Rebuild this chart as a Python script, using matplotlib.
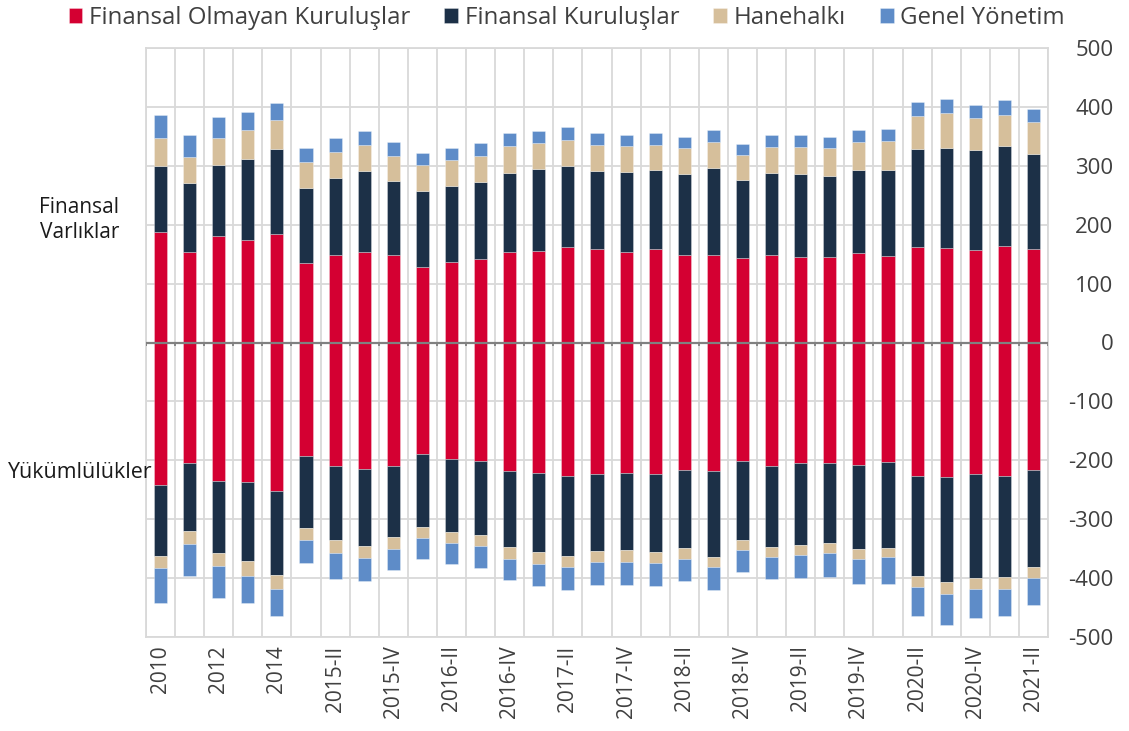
import matplotlib
matplotlib.use("Agg")
import matplotlib.pyplot as plt
import numpy as np

plt.rcParams['font.family'] = ['Open Sans', 'DejaVu Sans']

categories = ["2010", "2011", "2012", "2013", "2014",
              "2015-I", "2015-II", "2015-III", "2015-IV",
              "2016-I", "2016-II", "2016-III", "2016-IV",
              "2017-I", "2017-II", "2017-III", "2017-IV",
              "2018-I", "2018-II", "2018-III", "2018-IV",
              "2019-I", "2019-II", "2019-III", "2019-IV",
              "2020-I", "2020-II", "2020-III", "2020-IV",
              "2021-I", "2021-II"]

series_names = ["Finansal Olmayan Kuruluşlar", "Finansal Kuruluşlar", "Hanehalkı", "Genel Yönetim"]

# Finansal varlıklar (assets, positive)
assets_nfc = [187, 153, 181, 174, 185, 135, 148, 153, 148, 129, 137, 142, 153, 156, 162, 159,
              153, 158, 149, 149, 144, 149, 146, 146, 152, 147, 162, 160, 157, 163, 158]
assets_fc = [113, 117, 121, 138, 143, 128, 131, 138, 126, 128, 128, 130, 135, 138, 137, 133,
             136, 135, 137, 148, 132, 139, 140, 137, 141, 146, 166, 171, 169, 170, 162]
assets_hh = [47, 45, 46, 48, 50, 44, 45, 45, 43, 44, 44, 44, 45, 44, 45, 44,
             44, 43, 44, 44, 42, 44, 46, 47, 48, 49, 56, 58, 56, 54, 54]
assets_gov = [40, 37, 35, 31, 29, 23, 23, 23, 24, 21, 22, 22, 23, 21, 22, 20,
              20, 20, 19, 20, 19, 20, 20, 19, 20, 21, 24, 24, 22, 24, 23]

# Yükümlülükler (liabilities, negative)
liab_nfc = [-242, -205, -235, -236, -252, -192, -210, -214, -209, -190, -197, -202, -218, -221, -227, -224,
            -222, -224, -216, -218, -202, -209, -205, -204, -208, -203, -226, -229, -224, -227, -216]
liab_fc = [-121, -115, -122, -135, -142, -123, -126, -132, -122, -124, -124, -125, -130, -135, -136, -130,
           -131, -132, -133, -146, -134, -139, -139, -137, -143, -146, -170, -178, -175, -171, -165]
liab_hh = [-20, -22, -23, -26, -24, -20, -21, -20, -20, -18, -19, -19, -19, -20, -19, -19,
           -19, -19, -19, -17, -16, -16, -16, -16, -16, -16, -19, -20, -19, -20, -19]
liab_gov = [-59, -54, -53, -46, -46, -39, -45, -39, -36, -36, -36, -37, -36, -38, -38, -38,
            -39, -38, -37, -39, -38, -38, -40, -41, -43, -45, -49, -52, -50, -47, -45]

colors = ["#D40032", "#1C3047", "#D6BF9B", "#5E8CC8"]

fig = plt.figure(figsize=(11.29, 7.31), dpi=100)
ax = fig.add_axes([146/1129, 1 - 637/731, (1048 - 146)/1129, (637 - 48)/731])

x = np.arange(len(categories))
width = 0.45

pos_series = [assets_nfc, assets_fc, assets_hh, assets_gov]
neg_series = [liab_nfc, liab_fc, liab_hh, liab_gov]

bottom_p = np.zeros(len(categories))
bottom_n = np.zeros(len(categories))
handles = []
for vals_p, vals_n, col, name in zip(pos_series, neg_series, colors, series_names):
    vp = np.array(vals_p, dtype=float)
    vn = np.array(vals_n, dtype=float)
    h = ax.bar(x, vp, width, bottom=bottom_p, color=col, label=name, zorder=3,
               edgecolor=(1, 1, 1, 0.35), linewidth=0.6)
    ax.bar(x, vn, width, bottom=bottom_n, color=col, zorder=3,
           edgecolor=(1, 1, 1, 0.35), linewidth=0.6)
    bottom_p += vp
    bottom_n += vn
    handles.append(h)

ax.set_xlim(-0.5, len(categories) - 0.5)
ax.set_ylim(-500, 500)

ax.set_yticks(np.arange(-500, 501, 100))
ax.yaxis.tick_right()
ax.set_yticklabels([str(v) for v in range(-500, 501, 100)])
ax.tick_params(axis='y', length=0, pad=47, labelsize=16, labelcolor='#404040')
for lab in ax.get_yticklabels():
    lab.set_horizontalalignment('right')

ax.set_xticks(x[::2])
ax.set_xticklabels(categories[::2], rotation=90, fontsize=15, color='#404040')
ax.tick_params(axis='x', length=0, pad=6)

ax.set_xticks(np.arange(-0.5, len(categories), 1.0), minor=True)
ax.tick_params(axis='x', which='minor', length=0)
ax.grid(True, which='minor', axis='x', color='#D9D9D9', linewidth=1.3, zorder=0)
ax.grid(True, which='major', axis='y', color='#D9D9D9', linewidth=1.3, zorder=0)
ax.grid(False, which='major', axis='x')

for s in ax.spines.values():
    s.set_color('#D9D9D9')
    s.set_linewidth(1.3)

# zero line with small ticks
ax.axhline(0, color='#808080', linewidth=1.6, zorder=4)
ax.vlines(np.arange(-0.5, len(categories), 1.0), -6, 0, color='#808080', linewidth=1.3, zorder=4)

fig.text(119/1129, 1 - 220/731, "Finansal\nVarlıklar", ha='right', va='center',
         fontsize=15, color='#1a1a1a', linespacing=1.25)
fig.text(8/1129, 1 - 473/731, "Yükümlülükler", ha='left', va='center',
         fontsize=15.4, color='#1a1a1a')

leg = fig.legend(handles=handles, labels=series_names, loc='upper center',
                 bbox_to_anchor=(0.502, 1.012), ncol=4, frameon=False, fontsize=17.3,
                 handlelength=0.58, handleheight=0.58, handletextpad=0.28,
                 columnspacing=1.4, borderaxespad=0.2)
for t in leg.get_texts():
    t.set_color('#404040')

fig.savefig("out.png", dpi=100)
